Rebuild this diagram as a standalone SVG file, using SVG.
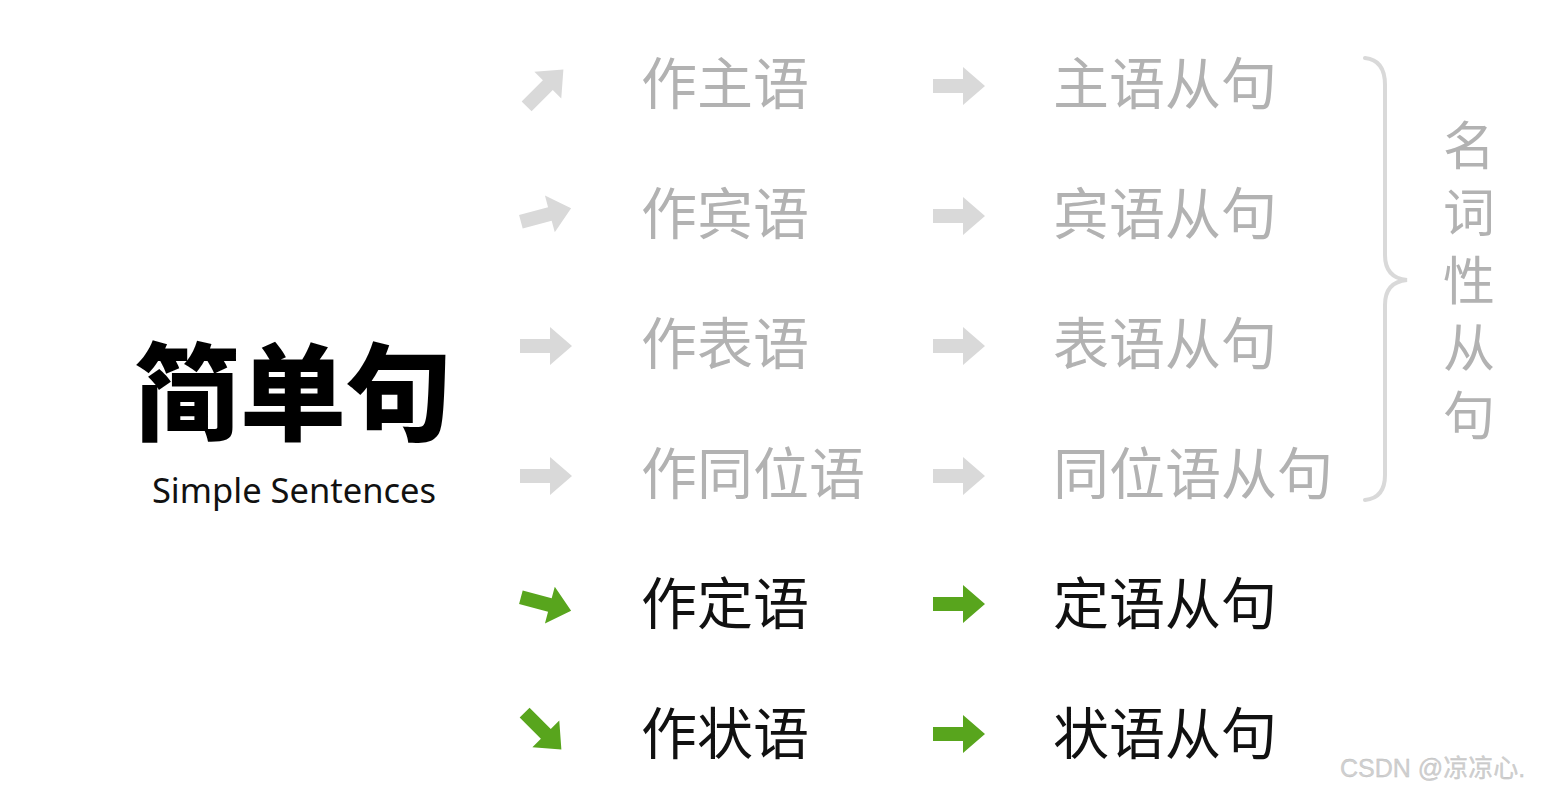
<svg xmlns="http://www.w3.org/2000/svg" width="1555" height="794" viewBox="0 0 1555 794">
<style>
.t{font-family:"Noto Sans CJK SC","Noto Sans",sans-serif;font-size:56px;}
.g{fill:#b2b2b2;}
.k{fill:#111;}
.ga{fill:#d9d9d9;}
.gr{fill:#58a51d;}
</style>
<defs>
<path id="arr" d="M-26,-7 H4 V-19 L26,0 L4,19 V7 H-26 Z"/>
</defs>
<rect width="1555" height="794" fill="#fff"/>
<g id="title">
<text x="293" y="432" text-anchor="middle" font-family="Noto Sans CJK SC,sans-serif" font-weight="900" font-size="106" fill="#000">简单句</text>
<text x="294" y="503" text-anchor="middle" font-family="Noto Sans,sans-serif" font-size="34.5" fill="#111">Simple Sentences</text>
</g>
<g id="connectors">
<use href="#arr" class="ga" transform="translate(545,88) rotate(-45)"/>
<use href="#arr" class="ga" transform="translate(546,215) rotate(-15)"/>
<use href="#arr" class="ga" transform="translate(546,346)"/>
<use href="#arr" class="ga" transform="translate(546,476)"/>
<use href="#arr" class="gr" transform="translate(546,604) rotate(15)"/>
<use href="#arr" class="gr" transform="translate(543,731) rotate(45)"/>
<use href="#arr" class="ga" transform="translate(959,86)"/>
<use href="#arr" class="ga" transform="translate(959,216)"/>
<use href="#arr" class="ga" transform="translate(959,346)"/>
<use href="#arr" class="ga" transform="translate(959,476)"/>
<use href="#arr" class="gr" transform="translate(959,604)"/>
<use href="#arr" class="gr" transform="translate(959,734)"/>
</g>
<g id="n-subj"><text class="t g" x="641" y="104">作主语</text><text class="t g" x="1053" y="104">主语从句</text></g>
<g id="n-obj"><text class="t g" x="641" y="234">作宾语</text><text class="t g" x="1053" y="234">宾语从句</text></g>
<g id="n-pred"><text class="t g" x="641" y="364">作表语</text><text class="t g" x="1053" y="364">表语从句</text></g>
<g id="n-appo"><text class="t g" x="641" y="494">作同位语</text><text class="t g" x="1053" y="494">同位语从句</text></g>
<g id="n-attr"><text class="t k" x="641" y="624">作定语</text><text class="t k" x="1053" y="624">定语从句</text></g>
<g id="n-adv"><text class="t k" x="641" y="754">作状语</text><text class="t k" x="1053" y="754">状语从句</text></g>
<g id="brace">
<path d="M1365,58 Q1385,60 1385,85 V255 Q1385,278 1407,280 Q1385,282 1385,305 V475 Q1385,498 1365,500" fill="none" stroke="#d9d9d9" stroke-width="4" stroke-linecap="round"/>
</g>
<g id="n-noun">
<text x="1469" y="119" writing-mode="tb" font-family="Noto Sans CJK SC,sans-serif" font-size="52" letter-spacing="15.5" fill="#b2b2b2">名词性从句</text>
</g>
<text x="1340" y="777" font-family="Liberation Sans,Noto Sans CJK SC,sans-serif" font-size="25" fill="#d0d0d0" stroke="#bbb" stroke-width="0.3">CSDN @凉凉心.</text>
</svg>
